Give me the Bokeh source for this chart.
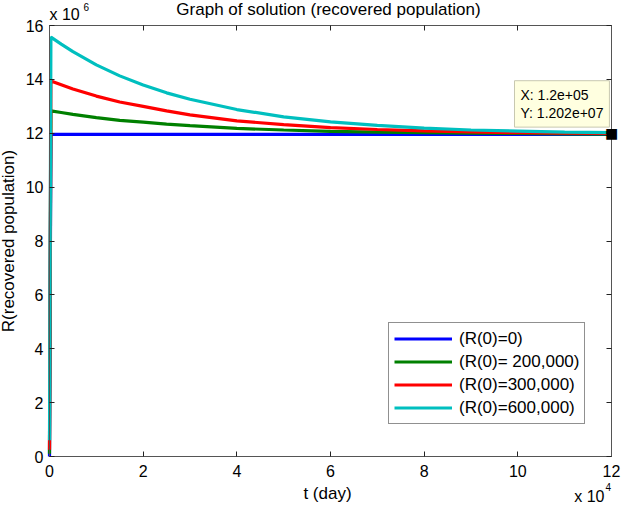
from bokeh.plotting import figure
from bokeh.models import (Label, LinearAxis, FixedTicker, CustomJSTickFormatter,
                          Range1d, ColumnDataSource)
from bokeh.embed import file_html
from bokeh.resources import INLINE
import math

# ---- data ----
t_day = [0, 300, 2500, 5000, 10000, 15000, 20000, 25000, 30000, 40000,
         50000, 60000, 70000, 80000, 90000, 100000, 110000, 120000]
r_blue = [0.0, 11.96, 11.96, 11.96, 11.96, 11.96, 11.96, 11.96, 11.96, 11.96,
          11.96, 11.96, 11.96, 11.96, 11.96, 11.96, 11.96, 11.96]
r_green = [0.10, 12.83, 12.77, 12.70, 12.58, 12.48, 12.41, 12.34, 12.28, 12.18,
           12.12, 12.07, 12.04, 12.02, 12.00, 11.99, 11.98, 11.97]
r_red = [0.25, 13.94, 13.80, 13.64, 13.38, 13.16, 13.00, 12.83, 12.68, 12.46,
         12.32, 12.21, 12.14, 12.09, 12.05, 12.02, 12.00, 11.99]
r_cyan = [0.60, 15.57, 15.31, 15.03, 14.54, 14.13, 13.79, 13.50, 13.26, 12.88,
          12.61, 12.42, 12.29, 12.19, 12.12, 12.08, 12.04, 12.02]
scale_r = 1e6  # values above are in millions

labels = ["(R(0)=0)", "(R(0)= 200,000)", "(R(0)=300,000)", "(R(0)=600,000)"]
colors = ["#0000ff", "#008000", "#ff0000", "#00bfbf"]

x_ticks = [0, 20000, 40000, 60000, 80000, 100000, 120000]
y_ticks = [0, 2e6, 4e6, 6e6, 8e6, 10e6, 12e6, 14e6, 16e6]
x_lim = (0, 120000)
y_lim = (0, 16e6)

tip_x = 120000
tip_y = 1.202e7
tip_text = "X: 1.2e+05\nY: 1.202e+07"

FONT = "Liberation Sans"
AX = "#555555"

# canvas and axes-box geometry (pixels)
W, H = 621, 505
BOX_L, BOX_R, BOX_T, BOX_B = 49, 611, 25, 456
ppx = (x_lim[1] - x_lim[0]) / (BOX_R - BOX_L)
ppy = (y_lim[1] - y_lim[0]) / (BOX_B - BOX_T)
xr = Range1d(x_lim[0] - BOX_L * ppx, x_lim[1] + (W - BOX_R) * ppx)
yr = Range1d(y_lim[0] - (H - BOX_B) * ppy, y_lim[1] + BOX_T * ppy)

p = figure(width=W, height=H, output_backend="svg", toolbar_location=None,
           x_range=xr, y_range=yr, title=None,
           min_border_left=0, min_border_right=0, min_border_top=0,
           min_border_bottom=0, x_axis_type=None, y_axis_type=None)
p.grid.visible = False
p.outline_line_color = None
p.background_fill_color = "white"
p.border_fill_color = "white"

fx = CustomJSTickFormatter(code="return (tick/1e4).toString();")
fy = CustomJSTickFormatter(code="return (tick/1e6).toString();")
blank = CustomJSTickFormatter(code="return '';")


def make_axis(ticks, fmt, show, loc, bounds):
    ax = LinearAxis(ticker=FixedTicker(ticks=ticks), formatter=fmt,
                    fixed_location=loc, bounds=bounds)
    ax.major_tick_in = 5
    ax.major_tick_out = 0
    ax.minor_tick_in = 0
    ax.minor_tick_out = 0
    ax.axis_line_color = AX
    ax.axis_line_width = 1
    ax.major_tick_line_color = "#222222"
    if show:
        ax.major_label_text_font = FONT
        ax.major_label_text_font_size = "16px"
        ax.major_label_text_color = "black"
    else:
        ax.major_label_text_font_size = "0px"
        ax.major_label_standoff = 0
    return ax


xb = make_axis(x_ticks, fx, True, y_lim[0], x_lim)
xb.major_label_standoff = 8
yl = make_axis(y_ticks, fy, True, x_lim[0], y_lim)
yl.major_label_standoff = 6
p.add_layout(xb, "below")
p.add_layout(yl, "left")
p.add_layout(make_axis(x_ticks, blank, False, y_lim[1], x_lim), "above")
p.add_layout(make_axis(y_ticks, blank, False, x_lim[1], y_lim), "right")

series = [r_blue, r_green, r_red, r_cyan]
for vals, col, lab in zip(series, colors, labels):
    src = ColumnDataSource(dict(t=t_day, r=[v * scale_r for v in vals]))
    p.line("t", "r", source=src, line_color=col, line_width=3.2,
           legend_label=lab)

lg = p.legend[0]
lg.location = (388, 81)
lg.border_line_color = "#222222"
lg.border_line_width = 1
lg.background_fill_color = "white"
lg.background_fill_alpha = 1
lg.glyph_width = 58
lg.glyph_height = 21
lg.label_height = 21
lg.spacing = 2
lg.padding = 5
lg.margin = 0
lg.label_standoff = 7
lg.label_text_font = FONT
lg.label_text_font_size = "17px"
lg.label_text_color = "black"


def txt(x, y, s, size, xo=0, yo=0, align="left", angle=0, base="alphabetic"):
    p.add_layout(Label(x=x, y=y, x_offset=xo, y_offset=yo, text=s, angle=angle,
                       text_align=align, text_baseline=base, text_font=FONT,
                       text_font_size=size, text_color="black"))


xm = (x_lim[0] + x_lim[1]) / 2
ym = (y_lim[0] + y_lim[1]) / 2
# title
txt(xm, y_lim[1], "Graph of solution (recovered population)", "17px", xo=-2, yo=16, align="center")
# exponent labels
txt(x_lim[0], y_lim[1], "x 10", "16px", yo=11)
txt(x_lim[0], y_lim[1], "6", "10px", xo=34, yo=19)
txt(x_lim[1], y_lim[0], "x 10", "16px", xo=-7, yo=-40, align="right")
txt(x_lim[1], y_lim[0], "4", "10px", xo=-6, yo=-30)
# axis labels
txt(xm, y_lim[0], "t (day)", "17px", xo=-3, yo=-37, align="center")
txt(x_lim[0], ym, "R(recovered population)", "17px", xo=-41, align="center",
    angle=math.pi / 2)

# data tip
p.add_layout(Label(x=tip_x, y=tip_y, x_offset=-97, y_offset=52, text=tip_text,
                   text_align="left", text_baseline="top", text_font=FONT,
                   text_font_size="14px", text_color="black", text_line_height=1.15,
                   background_fill_color="#ffffe0", border_line_color="#c8c8b0",
                   border_line_width=1, padding=6))
p.add_layout(Label(x=tip_x, y=tip_y, text="\u25a0", text_align="center",
                   text_baseline="middle", text_font="DejaVu Sans",
                   text_font_size="14px", text_color="black"))

open("out.html", "w").write(file_html(p, INLINE))
